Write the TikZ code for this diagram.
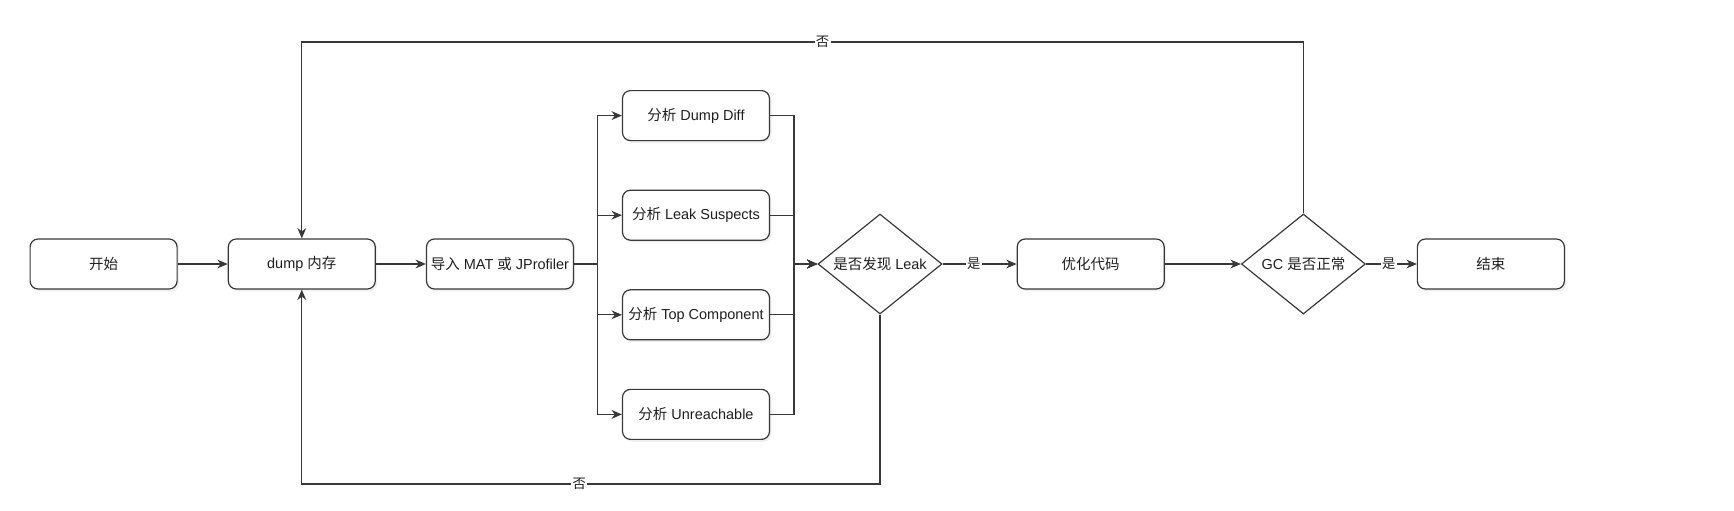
\documentclass[tikz,border=0pt]{standalone}
\usepackage{fontspec}
\setmainfont{Liberation Sans}
\newfontfamily\cjk{Noto Sans CJK SC}
\usetikzlibrary{arrows.meta, positioning, shapes.geometric, shadows}
\definecolor{linegray}{rgb}{0.22,0.22,0.22}
\definecolor{textgray}{rgb}{0.12,0.12,0.12}
\tikzset{
	box/.style={draw=linegray, line width=0.85pt, rounded corners=0.2cm, fill=white,
		minimum width=3.675cm, minimum height=1.25cm, inner sep=1pt, text=textgray,
		font=\fontsize{10.3}{12}\selectfont,
		drop shadow={shadow xshift=0.05cm, shadow yshift=-0.06cm, opacity=0.12}},
	decision/.style={diamond, draw=linegray, line width=0.85pt, fill=white, aspect=1.24,
		minimum width=3.1cm, minimum height=2.5cm, inner sep=0pt, text=textgray,
		font=\fontsize{10.3}{12}\selectfont},
	arr/.style={-{Stealth[length=2.6mm, width=2.2mm]}, draw=linegray, line width=0.85pt},
	lbl/.style={fill=white, inner sep=1pt, text=textgray, font=\cjk\fontsize{9.5}{11}\selectfont}
}

\begin{document}
\begin{tikzpicture}
	\useasboundingbox (0,0) rectangle (43.35,-12.75);
	
	%----------------------------------------------------------------
	\node(start) [box] at (2.59,-6.6) {\cjk 开始};
	\node(dump) [box, right=1.25cm of start] {dump {\cjk 内存}};
	\node(import) [box, right=1.25cm of dump] {{\cjk 导入} MAT {\cjk 或} JProfiler};
	
	%----------------------------------------------------------------
	\node(diff) [box] at (17.4,-2.89) {{\cjk 分析} Dump Diff};
	\node(suspects) [box, below=1.21cm of diff] {{\cjk 分析} Leak Suspects};
	\node(topcomp) [box, below=1.21cm of suspects] {{\cjk 分析} Top Component};
	\node(unreach) [box, below=1.21cm of topcomp] {{\cjk 分析} Unreachable};
	
	%----------------------------------------------------------------
	\node(leak) [decision] at (22.0,-6.6) {{\cjk 是否发现} Leak};
	\node(optim) [box, right=1.85cm of leak] {\cjk 优化代码};
	\node(gc) [decision, right=1.9cm of optim] {GC {\cjk 是否正常}};
	\node(finish) [box, right=1.27cm of gc] {\cjk 结束};
	
	\coordinate(split) at (14.93,-6.6);
	\coordinate(merge) at (19.85,-6.6);
	\coordinate(topline) at (0,-1.05);
	\coordinate(botline) at (0,-12.1);
	
	%----------------------------------------------------------------
	\draw [arr] (start) -- (dump);
	\draw [arr] (dump) -- (import);
	
	\draw [arr] (import.east) -- (split) |- (diff.west);
	\draw [arr] (import.east) -- (split) |- (suspects.west);
	\draw [arr] (import.east) -- (split) |- (topcomp.west);
	\draw [arr] (import.east) -- (split) |- (unreach.west);
	
	\draw [arr] (diff.east) -| (merge) -- (leak.west);
	\draw [arr] (suspects.east) -| (merge) -- (leak.west);
	\draw [arr] (topcomp.east) -| (merge) -- (leak.west);
	\draw [arr] (unreach.east) -| (merge) -- (leak.west);
	
	\draw [arr] (leak) -- node[lbl, pos=0.42] {是} (optim);
	\draw [arr] (optim) -- (gc);
	\draw [arr] (gc) -- node[lbl, pos=0.45] {是} (finish);
	
	%----------------------------------------------------------------
	\draw [arr] (gc.north) -- (gc.north |- topline) -- node[lbl, pos=0.48] {否} (dump.north |- topline) -- (dump.north);
	\draw [arr] (leak.south) -- (leak.south |- botline) -- node[lbl, pos=0.52] {否} (dump.south |- botline) -- (dump.south);
	
\end{tikzpicture}
\end{document}
